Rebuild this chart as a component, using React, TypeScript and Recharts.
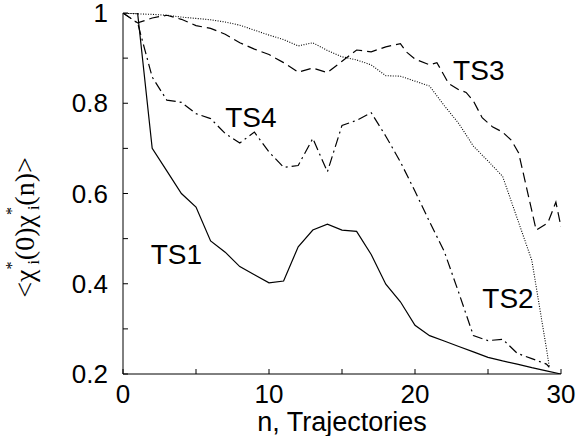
import React from 'react';
import { LineChart, Line, XAxis, YAxis, ReferenceDot } from 'recharts';

// ---------- data ----------
const nTS1 = [0, 1, 2, 3, 4, 5, 6, 7, 8, 9, 10, 11, 12, 13, 14, 15, 16, 17, 18, 19, 20, 21, 22, 23, 24, 25, 26, 27, 28, 29, 30];
const ts1Values = [1.0, 1.0, 0.70, 0.65, 0.60, 0.57, 0.495, 0.47, 0.438, 0.42, 0.402, 0.406, 0.482, 0.519, 0.532, 0.519, 0.516, 0.465, 0.399, 0.36, 0.308, 0.285, 0.273, 0.261, 0.249, 0.237, 0.229, 0.222, 0.214, 0.207, 0.20];

const nTS2 = [0, 1, 2, 3, 4, 5, 6, 7, 8, 9, 10, 11, 12, 13, 14, 15, 16, 17, 18, 19, 20, 21, 22, 23, 24, 25, 26, 27, 28, 29, 29.2];
const ts2Values = [1.0, 0.998, 0.997, 0.995, 0.991, 0.988, 0.985, 0.98, 0.973, 0.962, 0.951, 0.941, 0.927, 0.934, 0.917, 0.903, 0.896, 0.885, 0.861, 0.86, 0.849, 0.838, 0.795, 0.755, 0.705, 0.672, 0.638, 0.545, 0.452, 0.257, 0.215];

const nTS3 = [0, 1, 2, 3, 4, 5, 6, 7, 8, 9, 10, 11, 12, 13, 14, 15, 16, 17, 18, 19, 19.4, 20, 21, 21.5, 22.3, 23, 23.5, 24, 24.6, 25.3, 26, 26.6, 27.1, 28.3, 29.1, 29.65, 30];
const ts3Values = [1.0, 0.978, 0.989, 0.995, 0.986, 0.972, 0.966, 0.953, 0.934, 0.92, 0.908, 0.89, 0.869, 0.878, 0.868, 0.893, 0.918, 0.914, 0.925, 0.932, 0.914, 0.898, 0.885, 0.89, 0.844, 0.83, 0.824, 0.805, 0.768, 0.748, 0.736, 0.718, 0.69, 0.519, 0.535, 0.581, 0.526];

const nTS4 = [0, 1, 2, 3, 4, 5, 6, 7, 8, 9, 10, 11, 12, 13, 14, 15, 16, 17, 18, 19, 20, 21, 22, 23, 24, 25, 26, 27, 28, 29, 29.2];
const ts4Values = [1.0, 0.978, 0.858, 0.807, 0.802, 0.777, 0.766, 0.733, 0.712, 0.736, 0.692, 0.658, 0.662, 0.722, 0.648, 0.751, 0.762, 0.779, 0.727, 0.67, 0.605, 0.537, 0.472, 0.38, 0.285, 0.274, 0.277, 0.246, 0.234, 0.222, 0.215];

const xTicks = [0, 5, 10, 15, 20, 25, 30];
const xTickLabels = ['0', '', '10', '', '20', '', '30'];
const yTicks = [0.2, 0.3, 0.4, 0.5, 0.6, 0.7, 0.8, 0.9, 1.0];
const yTickLabels = ['0.2', '', '0.4', '', '0.6', '', '0.8', '', '1'];

const seriesNames = ['TS1', 'TS2', 'TS3', 'TS4'];
const labelN = [3.66, 26.37, 24.37, 8.76];
const labelV = [0.467, 0.368, 0.874, 0.770];

const xAxisTitle = 'n, Trajectories';

// ---------- build ----------
const build = (ns: number[], vs: number[]) => ns.map((n, i) => ({ n, v: vs[i] }));
const ts1 = build(nTS1, ts1Values);
const ts2 = build(nTS2, ts2Values);
const ts3 = build(nTS3, ts3Values);
const ts4 = build(nTS4, ts4Values);

const SANS = '"Liberation Sans", Arial, Helvetica, sans-serif';
const SERIF = '"Liberation Serif", "Times New Roman", serif';
const TICK_LEN = 5;
const TICK_FS = 26;

const BottomTick = (p: any) => {
  const idx = xTicks.indexOf(p.payload.value);
  const lab = idx >= 0 ? xTickLabels[idx] : '';
  return (
    <g>
      <line x1={p.x} y1={p.y} x2={p.x} y2={p.y - TICK_LEN} stroke="#000" strokeWidth={1} />
      {lab && (
        <text x={p.x} y={p.y + 29} textAnchor="middle" fontSize={TICK_FS} fontFamily={SANS} fill="#000">
          {lab}
        </text>
      )}
    </g>
  );
};

const TopTick = (p: any) => (
  <line x1={p.x} y1={p.y} x2={p.x} y2={p.y + TICK_LEN} stroke="#000" strokeWidth={1} />
);

const LeftTick = (p: any) => {
  const idx = yTicks.findIndex((t) => Math.abs(t - p.payload.value) < 1e-6);
  const lab = idx >= 0 ? yTickLabels[idx] : '';
  return (
    <g>
      <line x1={p.x} y1={p.y} x2={p.x + TICK_LEN} y2={p.y} stroke="#000" strokeWidth={1} />
      {lab && (
        <text x={p.x - 15} y={p.y + 9} textAnchor="end" fontSize={TICK_FS} fontFamily={SANS} fill="#000">
          {lab}
        </text>
      )}
    </g>
  );
};

const RightTick = (p: any) => (
  <line x1={p.x} y1={p.y} x2={p.x - TICK_LEN} y2={p.y} stroke="#000" strokeWidth={1} />
);

const XTitle = (p: any) => {
  const vb = p.viewBox || { x: 123, y: 374, width: 438, height: 62 };
  return (
    <text x={vb.x + vb.width / 2} y={vb.y + 57} textAnchor="middle" fontSize={27} fontFamily={SANS} fill="#000">
      {xAxisTitle}
    </text>
  );
};

const YTitle = (p: any) => {
  const vb = p.viewBox || { x: 0, y: 13, width: 123, height: 361 };
  const cx = vb.x + 34;
  const cy = vb.y + vb.height / 2 + 34;
  return (
    <text
      x={cx}
      y={cy}
      transform={`rotate(-90 ${cx} ${cy})`}
      textAnchor="middle"
      fontSize={28}
      fontFamily={SERIF}
      fill="#000"
    >
      {'<\u03C7'}
      <tspan fontSize={16} dy={-17}>*</tspan>
      <tspan fontSize={16} dx={-3} dy={22}>i</tspan>
      <tspan fontSize={28} dy={-5}>{'(0)\u03C7'}</tspan>
      <tspan fontSize={16} dy={-17}>*</tspan>
      <tspan fontSize={16} dx={-3} dy={22}>i</tspan>
      <tspan fontSize={28} dy={-5}>{'(n)>'}</tspan>
    </text>
  );
};

const makeLabelShape = (name: string) => (p: any) => (
  <text x={p.cx} y={p.cy + 10} textAnchor="middle" fontSize={28} fontFamily={SANS} fill="#000">
    {name}
  </text>
);

export default function App() {
  return (
    <div style={{ position: 'absolute', left: 0, top: 0, background: '#fff' }}>
      <LineChart width={576} height={436} margin={{ top: 13, right: 15, left: 0, bottom: 0 }}>
        <XAxis
          type="number"
          dataKey="n"
          domain={[0, 30]}
          ticks={xTicks}
          interval={0}
          height={62}
          tickLine={false}
          tickSize={0}
          tickMargin={0}
          axisLine={{ stroke: '#000', strokeWidth: 1 }}
          tick={(p: any) => <BottomTick {...p} />}
          label={{ content: (p: any) => <XTitle {...p} /> }}
          allowDataOverflow
        />
        <XAxis
          xAxisId="top"
          orientation="top"
          type="number"
          dataKey="n"
          domain={[0, 30]}
          ticks={xTicks}
          interval={0}
          height={0}
          tickLine={false}
          tickSize={0}
          tickMargin={0}
          axisLine={{ stroke: '#000', strokeWidth: 1 }}
          tick={(p: any) => <TopTick {...p} />}
          allowDataOverflow
        />
        <YAxis
          type="number"
          domain={[0.2, 1]}
          ticks={yTicks}
          interval={0}
          width={123}
          tickLine={false}
          tickSize={0}
          tickMargin={0}
          axisLine={{ stroke: '#000', strokeWidth: 1 }}
          tick={(p: any) => <LeftTick {...p} />}
          label={{ content: (p: any) => <YTitle {...p} /> }}
          allowDataOverflow
        />
        <YAxis
          yAxisId="right"
          orientation="right"
          type="number"
          domain={[0.2, 1]}
          ticks={yTicks}
          interval={0}
          width={0}
          tickLine={false}
          tickSize={0}
          tickMargin={0}
          axisLine={{ stroke: '#000', strokeWidth: 1 }}
          tick={(p: any) => <RightTick {...p} />}
          allowDataOverflow
        />
        <Line data={ts1} dataKey="v" type="linear" stroke="#000" strokeWidth={1.2} dot={false} isAnimationActive={false} />
        <Line data={ts2} dataKey="v" type="linear" stroke="#000" strokeWidth={1.1} strokeDasharray="1 1.5" dot={false} isAnimationActive={false} />
        <Line data={ts3} dataKey="v" type="linear" stroke="#000" strokeWidth={1.2} strokeDasharray="10 5" dot={false} isAnimationActive={false} />
        <Line data={ts4} dataKey="v" type="linear" stroke="#000" strokeWidth={1.2} strokeDasharray="10 4 2 4" dot={false} isAnimationActive={false} />
        {seriesNames.map((name, i) => (
          <ReferenceDot
            key={name}
            x={labelN[i]}
            y={labelV[i]}
            r={0}
            shape={makeLabelShape(name)}
          />
        ))}
      </LineChart>
    </div>
  );
}
